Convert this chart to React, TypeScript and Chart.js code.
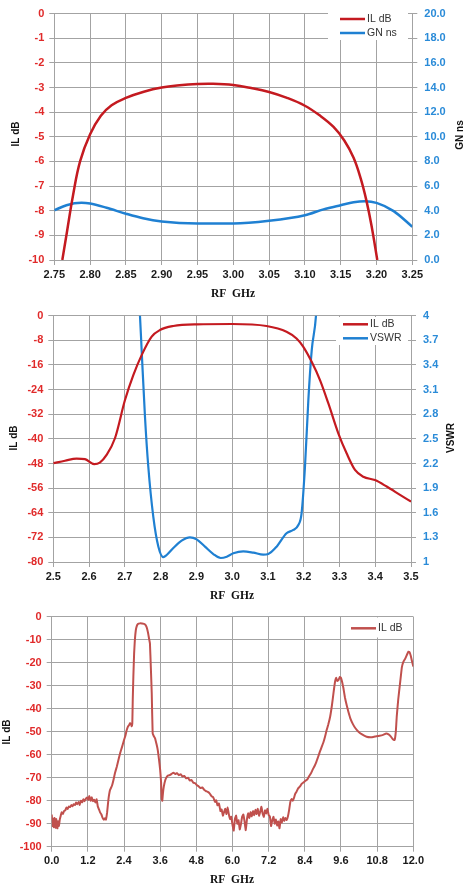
import React, { useEffect, useRef } from "react";
import { Chart, registerables } from "chart.js";

Chart.register(...registerables);

// ---------- Chart 1 data ----------
const C1_IL_FREQ = [2.7612, 2.768, 2.776, 2.786, 2.8, 2.815, 2.83, 2.85, 2.875, 2.9, 2.925, 2.95, 2.97, 3.0, 3.025, 3.05, 3.075, 3.1, 3.12, 3.14, 3.155, 3.168, 3.178, 3.186, 3.193, 3.2011];
const C1_IL_DB = [-10, -8.8, -7.4, -6.0, -4.9, -4.15, -3.72, -3.42, -3.17, -3.0, -2.91, -2.86, -2.85, -2.9, -3.02, -3.18, -3.42, -3.74, -4.12, -4.6, -5.15, -5.85, -6.7, -7.6, -8.6, -10];
const C1_GN_FREQ = [2.75, 2.767, 2.788, 2.8, 2.823, 2.85, 2.874, 2.9, 2.95, 3.0, 3.05, 3.1, 3.126, 3.15, 3.168, 3.184, 3.2, 3.224, 3.25];
const C1_GN_NS = [4.03, 4.45, 4.64, 4.58, 4.24, 3.76, 3.39, 3.13, 2.97, 2.97, 3.18, 3.63, 4.11, 4.45, 4.69, 4.77, 4.64, 3.97, 2.7];
const C1_X_TICKS = [2.75, 2.8, 2.85, 2.9, 2.95, 3.0, 3.05, 3.1, 3.15, 3.2, 3.25];
const C1_Y_TICKS = [0, -1, -2, -3, -4, -5, -6, -7, -8, -9, -10];
const C1_Y2_TICKS = [0, 2, 4, 6, 8, 10, 12, 14, 16, 18, 20];

// ---------- Chart 2 data ----------
const C2_IL_FREQ = [2.5, 2.5326, 2.565, 2.5885, 2.6146, 2.63, 2.649, 2.6724, 2.7004, 2.7237, 2.747, 2.775, 2.798, 2.8355, 2.9007, 3.0, 3.096, 3.152, 3.18, 3.199, 3.222, 3.2456, 3.269, 3.2968, 3.32, 3.3434, 3.3667, 3.3993, 3.432, 3.4693, 3.5];
const C2_IL_DB = [-47.9, -47.1, -46.4, -46.6, -48.2, -47.7, -45.2, -39.8, -27.4, -19.3, -12.8, -6.8, -4.65, -3.35, -2.8, -2.7, -3.35, -5.2, -7.4, -10.1, -14.9, -20.9, -28.5, -38.2, -44.7, -50.1, -52.3, -53.4, -55.5, -58.2, -60.4];
const C2_VSWR_FREQ = [2.738, 2.7423, 2.747, 2.7563, 2.7656, 2.7796, 2.7936, 2.8075, 2.817, 2.8355, 2.8588, 2.882, 2.9007, 2.924, 2.9474, 2.968, 2.985, 3.0033, 3.031, 3.0592, 3.087, 3.101, 3.1244, 3.152, 3.171, 3.185, 3.194, 3.2036, 3.213, 3.2225, 3.2344, 3.238];
const C2_VSWR = [4.3, 4.0, 3.58, 2.77, 2.16, 1.55, 1.19, 1.06, 1.085, 1.17, 1.26, 1.3, 1.276, 1.187, 1.097, 1.049, 1.065, 1.106, 1.13, 1.114, 1.089, 1.097, 1.187, 1.35, 1.39, 1.45, 1.59, 2.16, 2.97, 3.58, 4.0, 4.3];
const C2_X_TICKS = [2.5, 2.6, 2.7, 2.8, 2.9, 3.0, 3.1, 3.2, 3.3, 3.4, 3.5];
const C2_Y_TICKS = [0, -8, -16, -24, -32, -40, -48, -56, -64, -72, -80];
const C2_Y2_TICKS = [1, 1.3, 1.6, 1.9, 2.2, 2.5, 2.8, 3.1, 3.4, 3.7, 4];

// ---------- Chart 3 data ----------
const C3_FREQ = [
  0.0, 0.03, 0.05, 0.07, 0.09, 0.11, 0.13, 0.15, 0.17, 0.19, 0.21, 0.24, 0.27, 0.3, 0.33, 0.37, 0.41, 0.45, 0.49, 0.53,
  0.57, 0.61, 0.65, 0.69, 0.73, 0.77, 0.81, 0.85, 0.89, 0.93, 0.97, 1.01, 1.05, 1.09, 1.13, 1.17, 1.21, 1.25, 1.29, 1.33,
  1.37, 1.41, 1.45, 1.49, 1.53, 1.57, 1.61, 1.65, 1.69, 1.73, 1.77, 1.8, 1.84, 1.88, 1.935, 2.0, 2.05, 2.1, 2.16, 2.22,
  2.27, 2.33, 2.4, 2.45, 2.49, 2.53, 2.57, 2.6, 2.63, 2.655, 2.675, 2.69, 2.71, 2.735, 2.76, 2.79, 2.82, 2.86, 2.93, 3.0,
  3.09, 3.15, 3.2, 3.23, 3.26, 3.29, 3.32, 3.35, 3.39, 3.43, 3.48, 3.52, 3.56, 3.6, 3.63, 3.65, 3.67, 3.69, 3.72, 3.77,
  3.82, 3.87, 3.93, 3.98, 4.04, 4.1, 4.16, 4.22, 4.28, 4.34, 4.4, 4.46, 4.52, 4.58, 4.64, 4.7, 4.76, 4.82, 4.88, 4.94,
  5.0, 5.06, 5.12, 5.18, 5.24, 5.3, 5.36, 5.42, 5.46, 5.5, 5.55, 5.6, 5.64, 5.68, 5.72, 5.76, 5.8, 5.84, 5.88, 5.92,
  5.96, 6.0, 6.04, 6.08, 6.12, 6.16, 6.2, 6.24, 6.28, 6.32, 6.36, 6.4, 6.44, 6.48, 6.52, 6.56, 6.6, 6.64, 6.68, 6.72,
  6.76, 6.8, 6.84, 6.88, 6.92, 6.96, 7.0, 7.04, 7.08, 7.12, 7.16, 7.2, 7.24, 7.28, 7.32, 7.36, 7.4, 7.44, 7.48, 7.52,
  7.56, 7.6, 7.64, 7.68, 7.72, 7.76, 7.8, 7.84, 7.88, 7.92, 7.96, 8.0, 8.04, 8.08, 8.12, 8.18, 8.24, 8.3, 8.36, 8.42,
  8.48, 8.54, 8.6, 8.66, 8.72, 8.78, 8.84, 8.9, 8.96, 9.02, 9.07, 9.12, 9.18, 9.24, 9.3, 9.35, 9.4, 9.44, 9.48, 9.52,
  9.56, 9.6, 9.64, 9.68, 9.73, 9.79, 9.85, 9.92, 10.0, 10.08, 10.18, 10.3, 10.45, 10.6, 10.73, 10.88, 11.0, 11.1, 11.18, 11.25,
  11.32, 11.38, 11.42, 11.45, 11.5, 11.56, 11.62, 11.67, 11.74, 11.8, 11.84, 11.88, 11.92, 11.96, 12.0,
];
const C3_IL_DB = [
  -86, -91, -88, -91.5, -87.5, -90, -91.8, -88, -90.5, -92, -89, -91, -88, -86.5, -85, -85.8, -84.5, -84.2, -83, -83.6,
  -82.5, -82.8, -81.9, -82.4, -81.5, -81.9, -80.8, -81.5, -80.6, -81.8, -80, -80.7, -79.4, -80.2, -79.2, -78.6, -79.6, -78, -80, -78.5,
  -80.2, -79.6, -80.8, -79.4, -82.5, -83.8, -85.2, -86, -87.5, -88.3, -87.6, -88.2, -85, -79.7, -75.4, -73.5, -71, -68, -65.2, -62,
  -59.4, -56.8, -53.6, -51.5, -49.3, -47.8, -47.1, -46.3, -46.7, -47.6, -46.4, -36, -26, -16, -10.1, -6, -4.2, -3.2, -2.9, -3.0,
  -3.3, -4.5, -7.2, -9.5, -11.6, -22, -33.3, -50.7, -52, -52.9, -55.5, -58, -62, -66.7, -72, -79, -80, -77, -73.9, -71,
  -69.6, -69, -68.8, -68.3, -67.8, -68.4, -68, -68.9, -68.5, -69.5, -69.2, -70.3, -70, -71.2, -71, -72.2, -72.4, -73.3, -73.8, -74.5,
  -74.2, -75.3, -75.8, -76.2, -76.8, -78, -78.5, -80.5, -79.8, -82, -81.2, -84.5, -83.8, -86.5, -85, -83.5, -85.8, -83, -86, -88,
  -87, -90.5, -93, -88, -86.5, -90, -88.5, -92.5, -90.2, -87, -86, -89, -92.8, -88, -85.5, -87.5, -85, -86.8, -84.5, -86.3,
  -84, -85.8, -83.5, -86.5, -84.8, -82.6, -85.6, -87, -84.2, -85.5, -83.5, -86.2, -86.8, -91, -88.5, -87, -90, -88.2, -90.8, -89,
  -92, -88, -89.5, -87.2, -88.8, -87.5, -88.4, -86.8, -84, -80.5, -79.3, -80, -78.8, -77, -76.2, -74.6, -73.8, -72.6, -72, -71.3,
  -70.8, -69.4, -68.2, -66.5, -65, -63.2, -61, -58.7, -56.6, -54.5, -52.2, -49.5, -46.8, -43.5, -38.5, -33.3, -28.5, -26.6, -28, -27.5,
  -26.2, -26.6, -28.5, -31, -35, -38.5, -41.5, -44.5, -46.8, -48.5, -50, -51.2, -52.2, -52.4, -52.1, -51.8, -51.4, -50.8, -51.2, -52,
  -53.3, -53.6, -50, -43.5, -36, -29, -22, -19.6, -18, -16.2, -15.2, -15.5, -17.2, -19.5, -21.7,
];
const C3_X_TICKS = [0, 1.2, 2.4, 3.6, 4.8, 6.0, 7.2, 8.4, 9.6, 10.8, 12.0];
const C3_Y_TICKS = [0, -10, -20, -30, -40, -50, -60, -70, -80, -90, -100];

const RED = "#c41a20";
const BLUE = "#1f80d2";
const RED3 = "#c0504d";
const GRID = "#a3a3a3";
const LEFT_TICK = "#e02a2a";
const RIGHT_TICK = "#2a8bd8";
const TICK_FONT = { family: "'Liberation Sans', Arial, sans-serif", size: 11, weight: "bold" as const };

const pts = (xs: number[], ys: number[]) => xs.map((x, i) => ({ x, y: ys[i] }));
const setTicks = (arr: number[]) => (s: any) => {
  s.ticks = arr.map((v) => ({ value: v }));
};

type Decor = {
  box: [number, number, number, number];
  entries: { color: string; text: string; x1: number; x2: number; y: number }[];
  left: [number, number];
  right?: { text: string; x: number; y: number };
  bottom: [number, number];
};

const decorPlugin = (d: Decor) => ({
  id: "decor",
  afterDraw(chart: any) {
    const ctx = chart.ctx as CanvasRenderingContext2D;
    ctx.save();
    ctx.fillStyle = "#ffffff";
    ctx.fillRect(d.box[0], d.box[1], d.box[2], d.box[3]);
    ctx.font = "10.5px 'Liberation Sans', Arial, sans-serif";
    ctx.textBaseline = "middle";
    ctx.textAlign = "left";
    for (const e of d.entries) {
      ctx.strokeStyle = e.color;
      ctx.lineWidth = 2.5;
      ctx.beginPath();
      ctx.moveTo(e.x1, e.y);
      ctx.lineTo(e.x2, e.y);
      ctx.stroke();
      ctx.fillStyle = "#333333";
      ctx.fillText(e.text, e.x2 + 2, e.y);
    }
    ctx.fillStyle = "#111111";
    ctx.font = "bold 10px 'Liberation Sans', Arial, sans-serif";
    ctx.textAlign = "center";
    const vert = (text: string, x: number, y: number) => {
      ctx.save();
      ctx.translate(x, y);
      ctx.rotate(-Math.PI / 2);
      ctx.fillText(text, 0, 0);
      ctx.restore();
    };
    vert("IL dB", d.left[0], d.left[1]);
    if (d.right) vert(d.right.text, d.right.x, d.right.y);
    ctx.font = "bold 11.5px 'Liberation Serif', 'Times New Roman', serif";
    ctx.fillText("RF  GHz", d.bottom[0], d.bottom[1]);
    ctx.restore();
  },
});

function xScale(min: number, max: number, ticks: number[], digits: number, height: number) {
  return {
    type: "linear" as const,
    min,
    max,
    afterBuildTicks: setTicks(ticks),
    afterFit: (s: any) => {
      s.height = height;
    },
    grid: { color: GRID, lineWidth: 1, tickLength: 5 },
    border: { color: GRID },
    ticks: {
      color: "#1a1a1a",
      font: TICK_FONT,
      padding: 3,
      maxRotation: 0,
      autoSkip: false,
      callback: (v: any) => Number(v).toFixed(digits),
    },
  };
}

function yScale(
  pos: "left" | "right",
  min: number,
  max: number,
  ticks: number[],
  fmt: (v: number) => string,
  width: number,
  color: string
) {
  return {
    type: "linear" as const,
    position: pos,
    min,
    max,
    afterBuildTicks: setTicks(ticks),
    afterFit: (s: any) => {
      s.width = width;
    },
    grid: { color: GRID, lineWidth: 1, tickLength: 5, drawOnChartArea: pos === "left" },
    border: { color: GRID },
    ticks: {
      color,
      font: TICK_FONT,
      padding: pos === "left" ? 5 : 7,
      autoSkip: false,
      callback: (v: any) => fmt(Number(v)),
    },
  };
}

function makeConfig1(): any {
  return {
    type: "line",
    data: {
      datasets: [
        { label: "IL dB", data: pts(C1_IL_FREQ, C1_IL_DB), borderColor: RED, borderWidth: 2.5, pointRadius: 0, tension: 0.4, yAxisID: "y" },
        { label: "GN ns", data: pts(C1_GN_FREQ, C1_GN_NS), borderColor: BLUE, borderWidth: 2.5, pointRadius: 0, cubicInterpolationMode: "monotone", yAxisID: "y2" },
      ],
    },
    options: {
      animation: false,
      responsive: true,
      maintainAspectRatio: false,
      layout: { padding: { top: 8.3, left: 0, right: 0, bottom: 0 } },
      plugins: { legend: { display: false }, tooltip: { enabled: false } },
      scales: {
        x: xScale(2.75, 3.25, C1_X_TICKS, 2, 40),
        y: yScale("left", -10, 0, C1_Y_TICKS, (v) => String(v), 54.3, LEFT_TICK),
        y2: yScale("right", 0, 20, C1_Y2_TICKS, (v) => v.toFixed(1), 59.7, RIGHT_TICK),
      },
    },
    plugins: [
      decorPlugin({
        box: [328, 10, 80, 30],
        entries: [
          { color: RED, text: "IL dB", x1: 340, x2: 365, y: 19 },
          { color: BLUE, text: "GN ns", x1: 340, x2: 365, y: 33 },
        ],
        left: [16, 134],
        right: { text: "GN ns", x: 460, y: 135 },
        bottom: [233, 294],
      }),
    ],
  };
}

function makeConfig2(): any {
  return {
    type: "line",
    data: {
      datasets: [
        { label: "IL dB", data: pts(C2_IL_FREQ, C2_IL_DB), borderColor: RED, borderWidth: 2.2, pointRadius: 0, cubicInterpolationMode: "monotone", yAxisID: "y" },
        { label: "VSWR", data: pts(C2_VSWR_FREQ, C2_VSWR), borderColor: BLUE, borderWidth: 2.2, pointRadius: 0, cubicInterpolationMode: "monotone", yAxisID: "y2" },
      ],
    },
    options: {
      animation: false,
      responsive: true,
      maintainAspectRatio: false,
      layout: { padding: { top: 15.7, left: 0, right: 0, bottom: 0 } },
      plugins: { legend: { display: false }, tooltip: { enabled: false } },
      scales: {
        x: xScale(2.5, 3.5, C2_X_TICKS, 1, 43),
        y: yScale("left", -80, 0, C2_Y_TICKS, (v) => String(v), 53.3, LEFT_TICK),
        y2: yScale("right", 1, 4, C2_Y2_TICKS, (v) => String(Math.round(v * 10) / 10), 61, RIGHT_TICK),
      },
    },
    plugins: [
      decorPlugin({
        box: [336, 17, 72, 28],
        entries: [
          { color: RED, text: "IL dB", x1: 343, x2: 368, y: 24.3 },
          { color: BLUE, text: "VSWR", x1: 343, x2: 368, y: 38.3 },
        ],
        left: [14, 138],
        right: { text: "VSWR", x: 451, y: 138 },
        bottom: [232, 296],
      }),
    ],
  };
}

function makeConfig3(): any {
  return {
    type: "line",
    data: {
      datasets: [
        { label: "IL dB", data: pts(C3_FREQ, C3_IL_DB), borderColor: RED3, borderWidth: 2, pointRadius: 0, tension: 0.1, yAxisID: "y" },
      ],
    },
    options: {
      animation: false,
      responsive: true,
      maintainAspectRatio: false,
      layout: { padding: { top: 11.7, left: 0, right: 58.7, bottom: 0 } },
      plugins: { legend: { display: false }, tooltip: { enabled: false } },
      scales: {
        x: xScale(0, 12, C3_X_TICKS, 1, 47.3),
        y: yScale("left", -100, 0, C3_Y_TICKS, (v) => String(v), 51.7, LEFT_TICK),
      },
    },
    plugins: [
      decorPlugin({
        box: [346, 12.5, 64, 20],
        entries: [{ color: RED3, text: "IL dB", x1: 351, x2: 376, y: 23.3 }],
        left: [7, 127],
        bottom: [232, 275],
      }),
    ],
  };
}

function ChartBox({ top, height, make }: { top: number; height: number; make: () => any }) {
  const ref = useRef<HTMLCanvasElement | null>(null);
  useEffect(() => {
    if (!ref.current) return;
    const c = new Chart(ref.current, make());
    return () => c.destroy();
  }, [make]);
  return (
    <div style={{ position: "absolute", left: 0, top, width: 472, height }}>
      <canvas ref={ref} />
    </div>
  );
}

export default function App() {
  return (
    <div style={{ position: "absolute", left: 0, top: 0, width: 472, height: 894, background: "#ffffff" }}>
      <ChartBox top={0} height={300} make={makeConfig1} />
      <ChartBox top={300} height={305} make={makeConfig2} />
      <ChartBox top={605} height={289} make={makeConfig3} />
    </div>
  );
}
